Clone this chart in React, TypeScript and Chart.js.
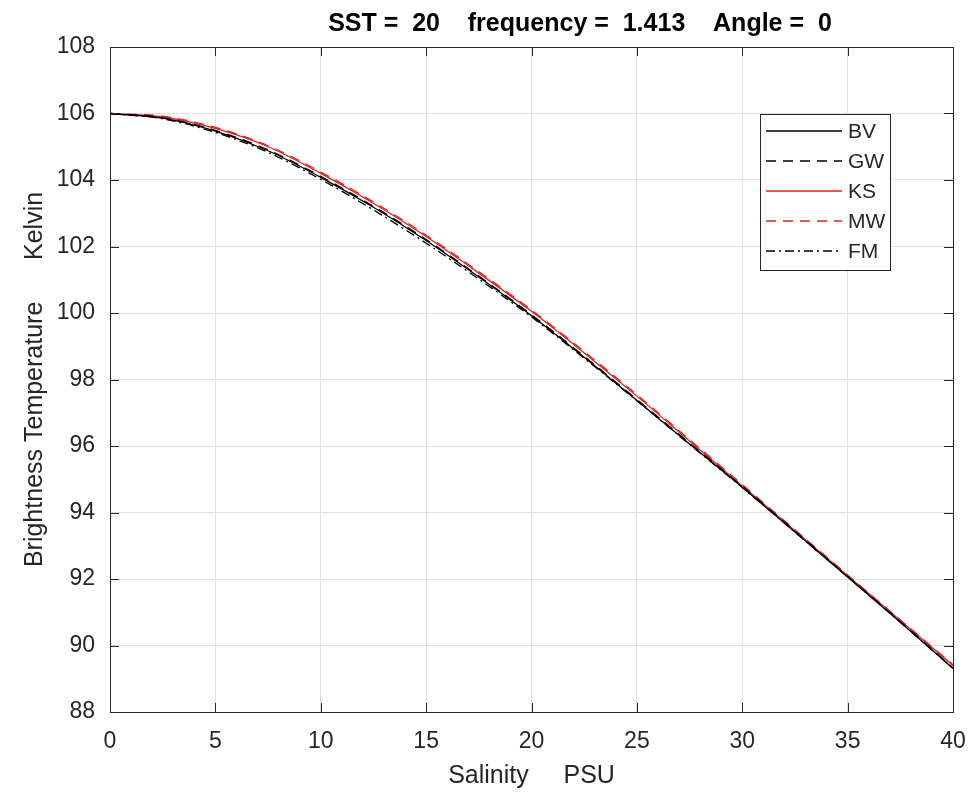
import React, { useEffect, useRef } from "react";
import { Chart, registerables } from "chart.js";

Chart.register(...registerables);

const salinity = [0, 2.5, 5, 7.5, 10, 12.5, 15, 17.5, 20, 22.5, 25, 27.5, 30, 32.5, 35, 37.5, 40];

const bvValues = [106.0, 105.86, 105.47, 104.88, 104.08, 103.18, 102.18, 101.08, 99.92, 98.67, 97.37, 96.06, 94.76, 93.41, 92.06, 90.7, 89.31];
const gwValues = [106.0, 105.87, 105.49, 104.91, 104.11, 103.21, 102.21, 101.11, 99.95, 98.7, 97.4, 96.09, 94.79, 93.44, 92.08, 90.72, 89.33];
const ksValues = [106.0, 105.9, 105.55, 105.0, 104.2, 103.3, 102.3, 101.2, 100.05, 98.8, 97.5, 96.15, 94.8, 93.45, 92.1, 90.75, 89.4];
const mwValues = [106.0, 105.92, 105.58, 105.03, 104.24, 103.34, 102.34, 101.24, 100.09, 98.84, 97.54, 96.19, 94.84, 93.48, 92.12, 90.77, 89.42];
const fmValues = [106.0, 105.84, 105.43, 104.83, 104.02, 103.1, 102.1, 101.02, 99.88, 98.64, 97.36, 96.05, 94.75, 93.41, 92.06, 90.7, 89.31];

const seriesNames = ["BV", "GW", "KS", "MW", "FM"];
const xTicks = [0, 5, 10, 15, 20, 25, 30, 35, 40];
const yTicks = [88, 90, 92, 94, 96, 98, 100, 102, 104, 106, 108];

const titleText = "SST =  20    frequency =  1.413    Angle =  0";
const xLabel = "Salinity     PSU";
const yLabel = "Brightness Temperature      Kelvin";

const RED = "#e0201e";
const BLACK = "#000000";
const AXIS = "#262626";
const FONT = "'Liberation Sans', Arial, sans-serif";

const styles = [
  { color: BLACK, dash: [] as number[] },
  { color: BLACK, dash: [10, 7] },
  { color: RED, dash: [] as number[] },
  { color: RED, dash: [10, 7] },
  { color: BLACK, dash: [9, 4, 2, 4] },
];

const allValues = [bvValues, gwValues, ksValues, mwValues, fmValues];

const boxPlugin = {
  id: "matlabBox",
  afterDatasetsDraw(chart: any) {
    const { ctx, chartArea: a, scales } = chart;
    ctx.save();
    ctx.strokeStyle = AXIS;
    ctx.lineWidth = 1;
    ctx.setLineDash([]);
    ctx.strokeRect(Math.round(a.left) + 0.5, Math.round(a.top) + 0.5, Math.round(a.right - a.left), Math.round(a.bottom - a.top));
    const tl = 9;
    ctx.beginPath();
    xTicks.forEach((t) => {
      const px = Math.round(scales.x.getPixelForValue(t)) + 0.5;
      ctx.moveTo(px, a.bottom);
      ctx.lineTo(px, a.bottom - tl);
      ctx.moveTo(px, a.top);
      ctx.lineTo(px, a.top + tl);
    });
    yTicks.forEach((t) => {
      const py = Math.round(scales.y.getPixelForValue(t)) + 0.5;
      ctx.moveTo(a.left, py);
      ctx.lineTo(a.left + tl, py);
      ctx.moveTo(a.right, py);
      ctx.lineTo(a.right - tl, py);
    });
    ctx.stroke();
    ctx.restore();
  },
  afterDraw(chart: any) {
    const { ctx } = chart;
    ctx.save();
    // title
    ctx.fillStyle = "#000";
    ctx.font = `bold 25px ${FONT}`;
    ctx.textAlign = "center";
    ctx.textBaseline = "middle";
    ctx.fillText(titleText, 580, 24);
    // legend
    const lx = 760, ly = 114, lw = 130, lh = 156;
    ctx.fillStyle = "#fff";
    ctx.fillRect(lx, ly, lw, lh);
    ctx.strokeStyle = AXIS;
    ctx.lineWidth = 1;
    ctx.setLineDash([]);
    ctx.strokeRect(lx + 0.5, ly + 0.5, lw, lh);
    ctx.font = `21px ${FONT}`;
    ctx.textAlign = "left";
    ctx.textBaseline = "middle";
    seriesNames.forEach((name, i) => {
      const y = 131 + i * 30;
      ctx.strokeStyle = styles[i].color;
      ctx.lineWidth = 1.3;
      ctx.setLineDash(styles[i].dash);
      ctx.beginPath();
      ctx.moveTo(766, y);
      ctx.lineTo(842, y);
      ctx.stroke();
      ctx.setLineDash([]);
      ctx.fillStyle = AXIS;
      ctx.fillText(name, 848, y + 1);
    });
    ctx.restore();
  },
};

export default function App() {
  const ref = useRef<HTMLCanvasElement | null>(null);
  useEffect(() => {
    if (!ref.current) return;
    const chart = new Chart(ref.current, {
      type: "line",
      data: {
        datasets: seriesNames.map((name, i) => ({
          label: name,
          data: salinity.map((s, j) => ({ x: s, y: allValues[i][j] })),
          borderColor: styles[i].color,
          borderDash: styles[i].dash,
          borderWidth: 1.3,
          pointRadius: 0,
          fill: false,
          cubicInterpolationMode: "monotone" as const,
        })),
      },
      options: {
        responsive: false,
        animation: false,
        layout: { padding: { left: 0, right: 16, top: 47, bottom: 0 } },
        plugins: { legend: { display: false }, title: { display: false }, tooltip: { enabled: false } },
        scales: {
          x: {
            type: "linear",
            min: 0,
            max: 40,
            afterBuildTicks: (s: any) => { s.ticks = xTicks.map((v) => ({ value: v })); },
            afterFit: (s: any) => { s.height = 85; s.paddingLeft = 0; s.paddingRight = 0; },
            ticks: { font: { size: 23, family: FONT }, color: AXIS, padding: 16, maxRotation: 0 },
            grid: { color: "#e0e0e0", drawTicks: false },
            border: { display: false },
            title: { display: true, text: xLabel, font: { size: 25, family: FONT }, color: AXIS, padding: { top: 0, bottom: 6 } },
          },
          y: {
            type: "linear",
            min: 88,
            max: 108,
            afterBuildTicks: (s: any) => { s.ticks = yTicks.map((v) => ({ value: v })); },
            afterFit: (s: any) => { s.width = 110; s.paddingTop = 0; s.paddingBottom = 0; },
            ticks: { font: { size: 23, family: FONT }, color: AXIS, padding: 15 },
            grid: { color: "#e0e0e0", drawTicks: false },
            border: { display: false },
            title: { display: true, text: yLabel, font: { size: 25, family: FONT }, color: AXIS, padding: { top: 20, bottom: 0 } },
          },
        },
      },
      plugins: [boxPlugin],
    });
    return () => chart.destroy();
  }, []);
  return (
    <div style={{ position: "fixed", left: 0, top: 0, width: 969, height: 797, background: "#fff" }}>
      <canvas ref={ref} width={969} height={797} />
    </div>
  );
}
